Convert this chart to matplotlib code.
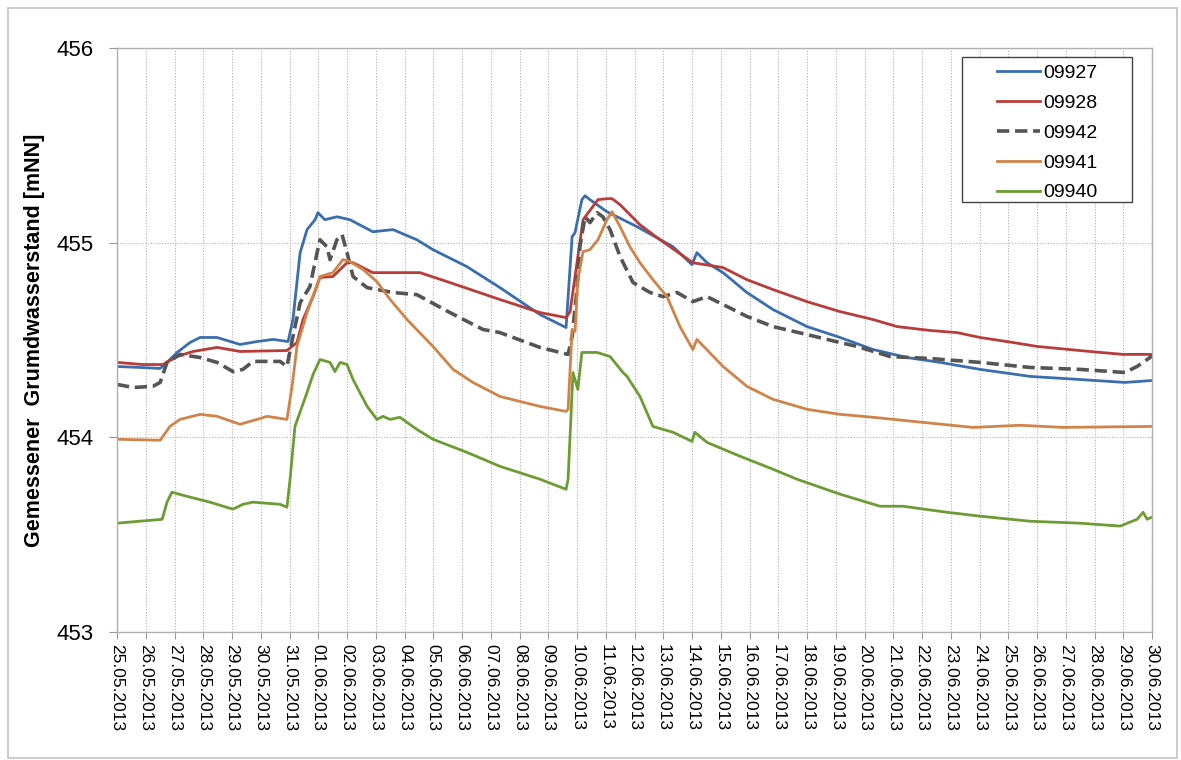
import matplotlib
matplotlib.use("Agg")
import matplotlib.pyplot as plt
import matplotlib.dates as mdates
from matplotlib.patches import Rectangle
import pandas as pd

start = pd.Timestamp("2013-05-25")

# days since 25.05.2013 00:00 and measured level [mNN]
days_09927 = [0, 0.80, 1.50, 1.74, 2.09, 2.54, 2.89, 3.48, 4.28, 4.87, 5.43, 5.95, 6.12, 6.37, 6.61,
              6.89, 6.99, 7.23, 7.65, 8.10, 8.90, 9.60, 10.43, 10.99, 12.17, 13.32, 14.71, 15.62, 15.83,
              15.93, 16.17, 16.28, 16.45, 17.04, 18.09, 19.34, 20.00, 20.17, 20.52, 21.08, 21.91, 22.82,
              24.00, 25.15, 26.30, 27.48, 28.63, 30.02, 31.76, 33.50, 35.06, 36.00]
vals_09927 = [454.364, 454.359, 454.354, 454.385, 454.436, 454.487, 454.513, 454.513, 454.477, 454.492,
              454.503, 454.492, 454.605, 454.949, 455.067, 455.118, 455.154, 455.118, 455.133, 455.118,
              455.056, 455.067, 455.015, 454.964, 454.877, 454.769, 454.631, 454.564, 455.031, 455.051,
              455.221, 455.241, 455.221, 455.159, 455.082, 454.979, 454.887, 454.949, 454.897, 454.846,
              454.744, 454.656, 454.569, 454.513, 454.451, 454.410, 454.385, 454.349, 454.313, 454.297,
              454.282, 454.292]

days_09928 = [0, 0.90, 1.60, 2.09, 2.64, 3.48, 4.28, 5.91, 6.26, 6.47, 6.82, 7.06, 7.51, 8.00, 8.21, 8.90,
              10.54, 11.58, 13.32, 14.71, 15.62, 15.76, 16.21, 16.73, 17.04, 17.22, 17.50, 18.19, 18.89,
              20.03, 21.08, 21.91, 22.82, 24.00, 25.15, 26.30, 27.13, 28.28, 29.22, 30.02, 31.17, 32.00,
              33.84, 34.99, 36.00]
vals_09928 = [454.385, 454.374, 454.374, 454.415, 454.441, 454.462, 454.441, 454.446, 454.487, 454.605,
              454.723, 454.821, 454.826, 454.897, 454.897, 454.846, 454.846, 454.795, 454.708, 454.641,
              454.615, 454.646, 455.118, 455.221, 455.226, 455.226, 455.195, 455.092, 455.015, 454.897,
              454.872, 454.810, 454.759, 454.697, 454.646, 454.605, 454.569, 454.549, 454.538, 454.513,
              454.487, 454.467, 454.441, 454.426, 454.426]

days_09942 = [0, 0.56, 1.25, 1.50, 1.74, 2.19, 2.89, 3.48, 4.03, 4.38, 4.73, 5.67, 5.91, 6.12, 6.37, 6.71,
              6.96, 7.06, 7.30, 7.41, 7.65, 7.83, 8.00, 8.21, 8.70, 9.60, 10.43, 11.58, 12.73, 13.32, 14.71,
              15.69, 15.83, 16.00, 16.10, 16.28, 16.45, 16.70, 16.90, 17.15, 17.50, 17.95, 18.54, 18.99,
              19.48, 20.03, 20.52, 21.22, 21.91, 22.82, 24.00, 25.15, 25.74, 26.89, 28.28, 30.02, 31.76,
              33.50, 35.06, 35.48, 35.93, 36.00]
vals_09942 = [454.272, 454.256, 454.262, 454.282, 454.385, 454.426, 454.410, 454.385, 454.338, 454.349,
              454.390, 454.390, 454.364, 454.518, 454.692, 454.774, 454.949, 455.015, 454.979, 454.913,
              455.015, 455.041, 454.949, 454.826, 454.769, 454.744, 454.733, 454.641, 454.554, 454.538,
              454.462, 454.426, 454.518, 454.759, 454.979, 455.133, 455.103, 455.154, 455.133, 455.067,
              454.928, 454.795, 454.744, 454.723, 454.744, 454.697, 454.723, 454.672, 454.621, 454.569,
              454.528, 454.487, 454.467, 454.415, 454.405, 454.385, 454.359, 454.349, 454.333, 454.364,
              454.410, 454.421]

days_09941 = [0, 1.50, 1.84, 2.19, 2.89, 3.48, 4.28, 4.87, 5.22, 5.91, 6.09, 6.26, 6.61, 7.06, 7.51, 7.86,
              8.10, 8.56, 9.04, 9.50, 10.09, 10.99, 11.69, 12.38, 13.32, 14.71, 15.62, 15.69, 15.83, 15.93,
              16.03, 16.21, 16.45, 16.73, 17.04, 17.22, 17.50, 17.84, 18.19, 18.64, 19.13, 19.58, 20.03,
              20.17, 21.08, 21.91, 22.82, 24.00, 25.15, 26.30, 27.69, 29.77, 31.41, 32.90, 36.00]
vals_09941 = [453.990, 453.985, 454.056, 454.092, 454.118, 454.108, 454.067, 454.092, 454.108, 454.092,
              454.262, 454.467, 454.641, 454.826, 454.846, 454.913, 454.903, 454.862, 454.800, 454.708,
              454.605, 454.467, 454.349, 454.282, 454.210, 454.159, 454.133, 454.144, 454.554, 454.544,
              454.810, 454.954, 454.964, 455.015, 455.118, 455.159, 455.082, 454.979, 454.897, 454.810,
              454.723, 454.569, 454.451, 454.503, 454.364, 454.262, 454.195, 454.144, 454.118, 454.103,
              454.082, 454.051, 454.062, 454.051, 454.056]

days_09940 = [0, 1.57, 1.74, 1.91, 2.43, 3.23, 4.03, 4.38, 4.73, 5.67, 5.91, 6.02, 6.19, 6.61, 6.82, 7.06,
              7.41, 7.58, 7.76, 8.00, 8.21, 8.70, 9.04, 9.25, 9.50, 9.84, 10.43, 10.99, 12.17, 13.32, 14.71,
              15.62, 15.69, 15.86, 16.03, 16.17, 16.70, 17.15, 17.60, 17.74, 18.19, 18.64, 19.34, 20.00,
              20.10, 20.52, 21.67, 22.82, 23.65, 25.15, 26.54, 27.34, 28.87, 30.02, 31.76, 33.50, 34.89,
              35.48, 35.69, 35.83, 36.00]
vals_09940 = [453.559, 453.579, 453.667, 453.718, 453.697, 453.667, 453.631, 453.656, 453.667, 453.656,
              453.641, 453.785, 454.056, 454.231, 454.323, 454.400, 454.385, 454.338, 454.385, 454.374,
              454.297, 454.159, 454.092, 454.108, 454.092, 454.103, 454.041, 453.990, 453.923, 453.851,
              453.785, 453.733, 453.785, 454.333, 454.246, 454.436, 454.436, 454.415, 454.333, 454.313,
              454.210, 454.056, 454.026, 453.979, 454.026, 453.974, 453.903, 453.836, 453.785, 453.708,
              453.646, 453.646, 453.615, 453.595, 453.569, 453.559, 453.544, 453.579, 453.615, 453.579,
              453.590]

y_ticks = [453, 454, 455, 456]

series = [
    ("09927", days_09927, vals_09927, "#3a6eae", "-"),
    ("09928", days_09928, vals_09928, "#b83c3a", "-"),
    ("09942", days_09942, vals_09942, "#555555", (0, (3.4, 1.6))),
    ("09941", days_09941, vals_09941, "#d0844a", "-"),
    ("09940", days_09940, vals_09940, "#6e9c34", "-"),
]

plt.rcParams["font.family"] = ["Liberation Sans", "DejaVu Sans"]

fig = plt.figure(figsize=(11.81, 7.6), dpi=100)
ax = fig.add_axes([117 / 1181, 1 - 632 / 760, 1035 / 1181, 584 / 760])

# grey frame round the whole chart
fig.patches.append(Rectangle((8 / 1181, 2 / 760), 1169 / 1181, 750 / 760, transform=fig.transFigure,
                             fill=False, edgecolor="#c4c4c4", linewidth=1.2))

for name, d, v, col, ls in series:
    t = start + pd.to_timedelta(d, unit="D")
    lw = 2.6 if name == "09942" else 2.0
    ax.plot(t, v, color=col, linestyle=ls, linewidth=lw, label=name)

ax.set_xlim(start, start + pd.Timedelta(days=36))
ax.set_ylim(453, 456)
ax.set_yticks(y_ticks)
ax.xaxis.set_major_locator(mdates.DayLocator())
ax.xaxis.set_major_formatter(mdates.DateFormatter("%d.%m.%Y"))
plt.setp(ax.get_xticklabels(), rotation=270, ha="center", va="top")
ax.tick_params(axis="x", labelsize=12.5, length=5, color="#999999", pad=4)
ax.tick_params(axis="y", labelsize=16, length=6, color="#999999", pad=11)

ax.grid(True, color="#b0b0b0", linestyle=(0, (1, 1.5)), linewidth=0.8)
ax.set_axisbelow(True)
for s in ax.spines.values():
    s.set_color("#b0b0b0")
    s.set_linewidth(1)

ax.set_ylabel("Gemessener  Grumdwasserstand [mNN]", fontsize=15.5, fontweight="bold", labelpad=8)

# legend box drawn separately so that the entries sit centred in it
ax.add_patch(Rectangle((0.8164, 0.7363), 0.1643, 0.2483, transform=ax.transAxes, facecolor="white",
                       edgecolor="#444444", linewidth=1.0, zorder=4))
leg = ax.legend(loc="upper left", bbox_to_anchor=(0.8502, 0.972), fontsize=14, frameon=False,
                handlelength=2.2, handletextpad=0.2, borderpad=0, labelspacing=0.63, borderaxespad=0)
leg.set_zorder(5)

fig.savefig("out.png", dpi=100)
